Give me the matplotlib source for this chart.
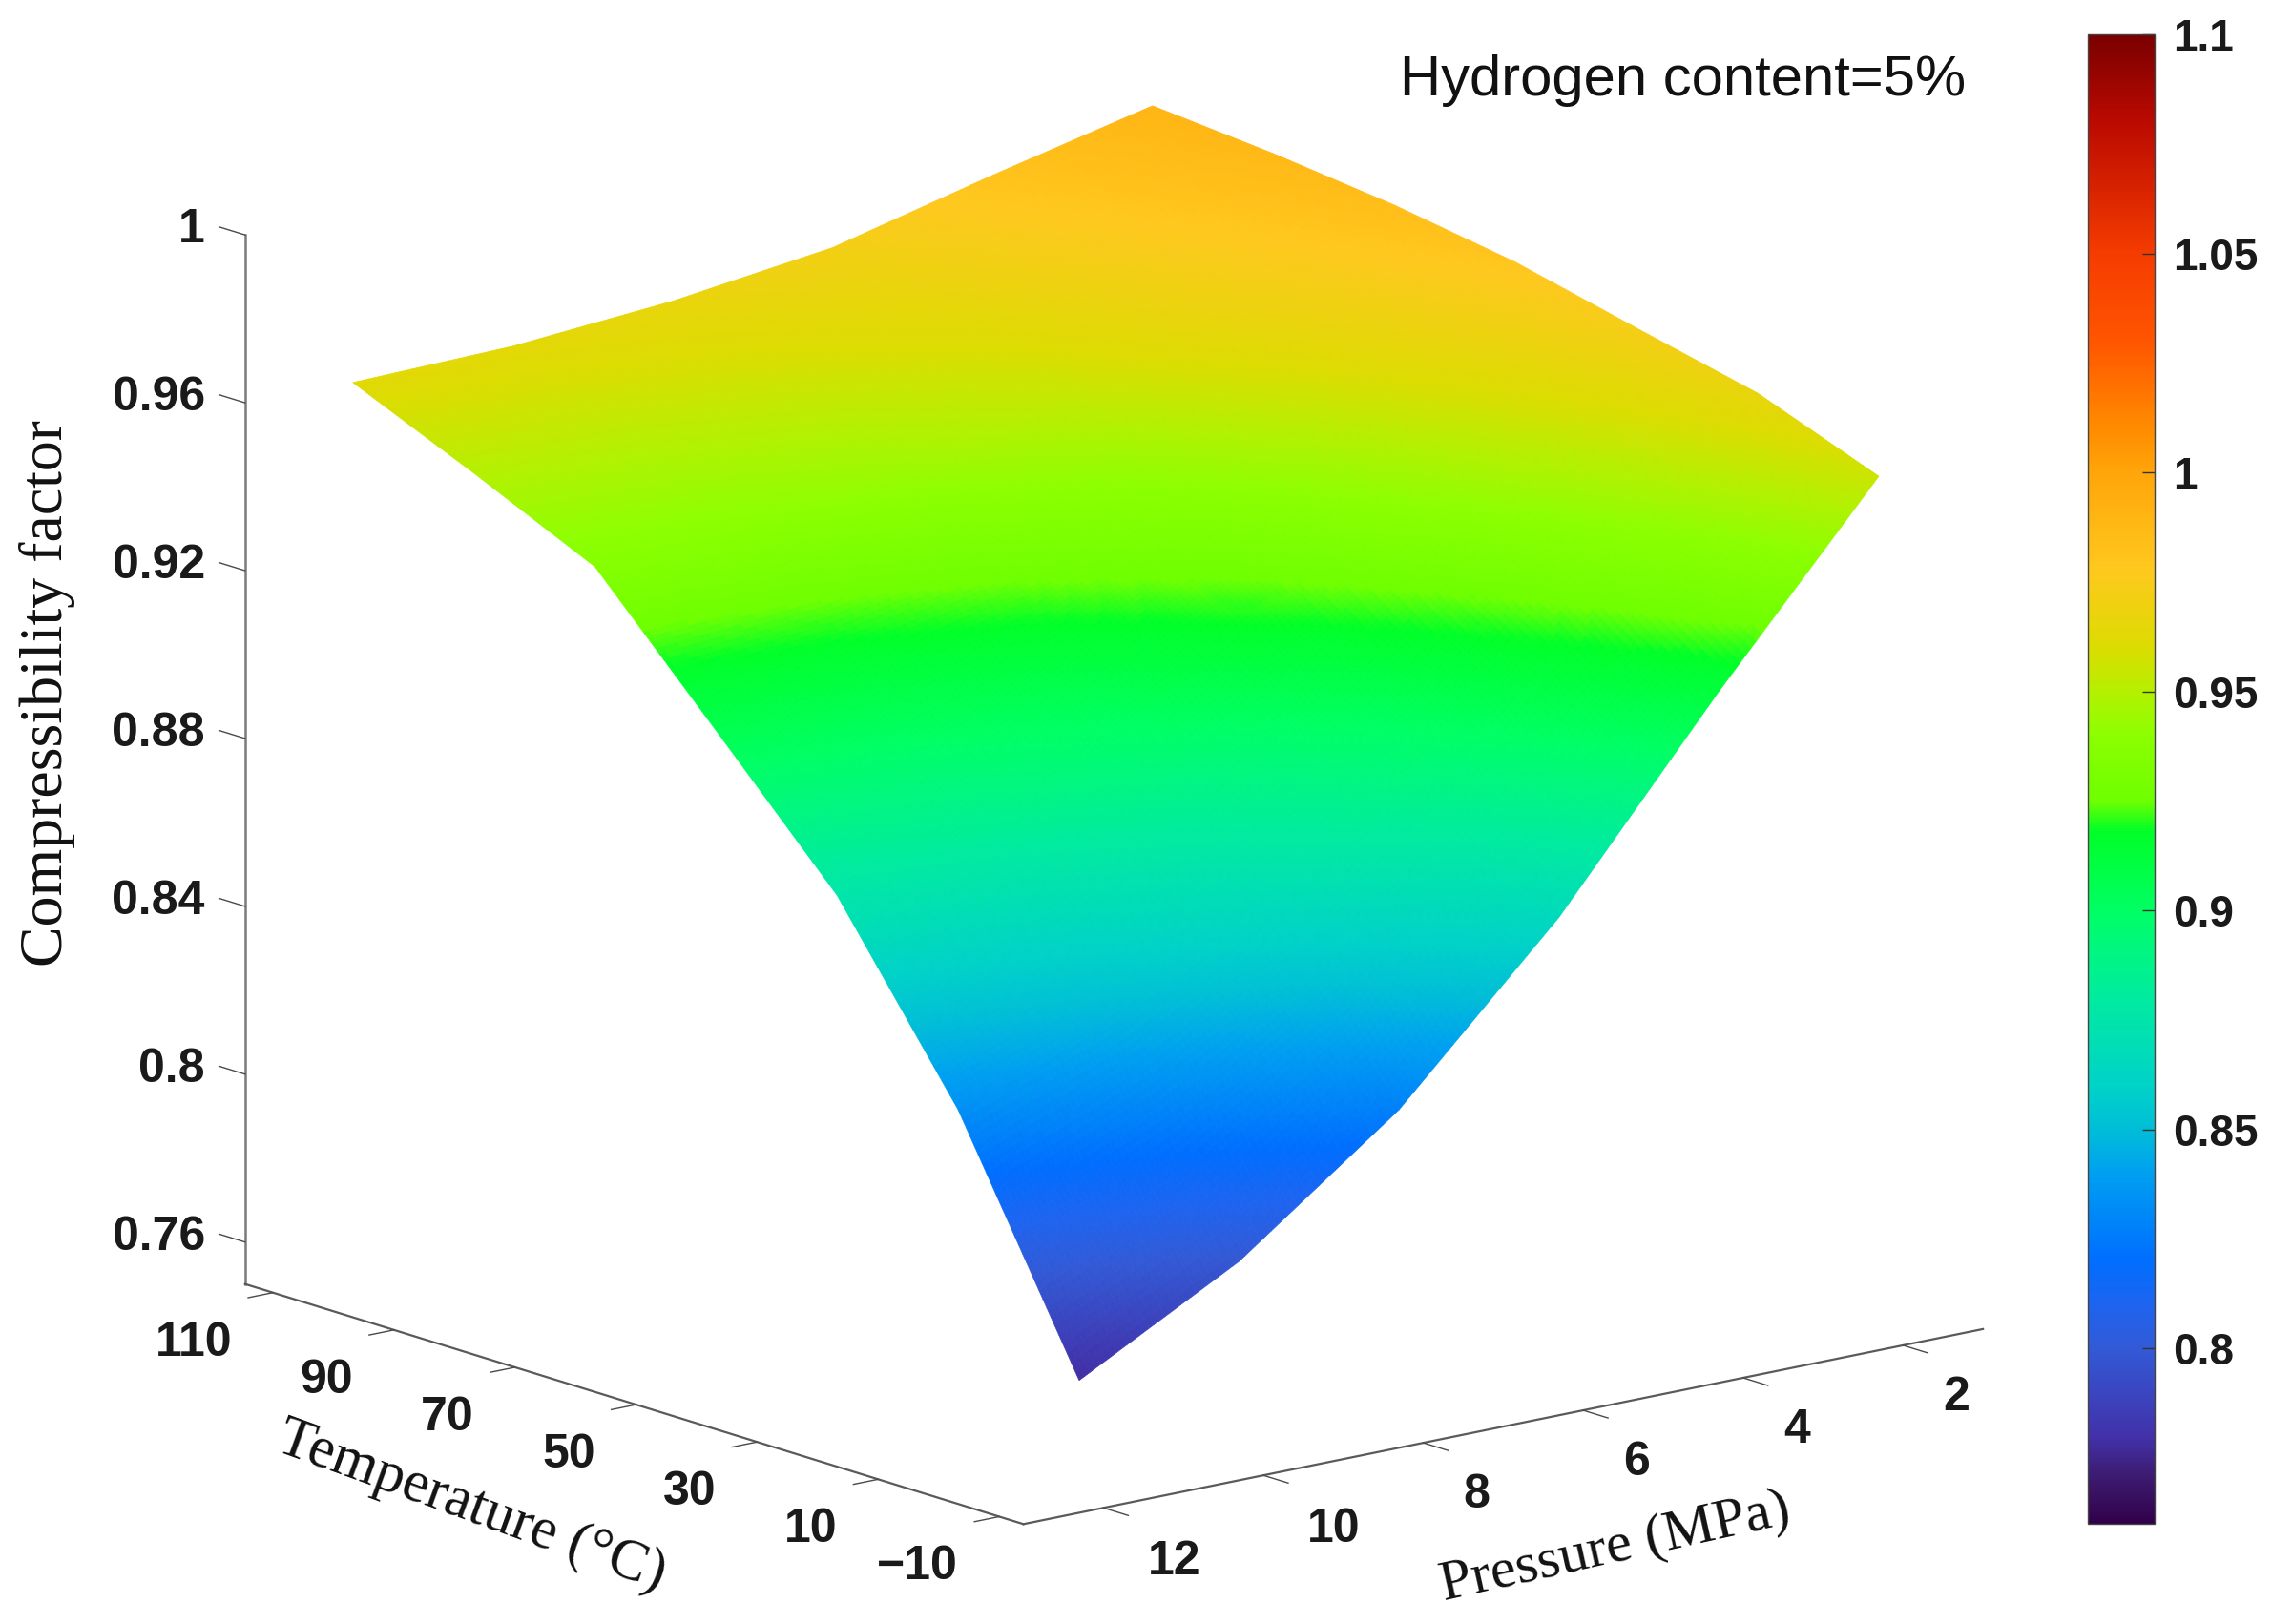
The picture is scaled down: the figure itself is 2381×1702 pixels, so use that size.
# Compressibility factor surface, hydrogen content 5%
import numpy as np
import matplotlib
matplotlib.use('Agg')
import matplotlib.pyplot as plt
from matplotlib.colors import LinearSegmentedColormap, Normalize
from matplotlib.cm import ScalarMappable
from mpl_toolkits.mplot3d import proj3d

W, H = 2381, 1702

temperature = [-10, 10, 30, 50, 70, 90, 110]
pressure = [2, 4, 6, 8, 10, 12]
# rows follow temperature, columns follow pressure
z_m10 = [0.9553, 0.9118, 0.8657, 0.8276, 0.7992, 0.7786]
z_10 = [0.9662, 0.9325, 0.8964, 0.8679, 0.8476, 0.8342]
z_30 = [0.9728, 0.9470, 0.9191, 0.8982, 0.8843, 0.8764]
z_50 = [0.9796, 0.9592, 0.9373, 0.9216, 0.9118, 0.9068]
z_70 = [0.9843, 0.9698, 0.9540, 0.9441, 0.9385, 0.9369]
z_90 = [0.9877, 0.9760, 0.9633, 0.9559, 0.9516, 0.9503]
z_110 = [0.9902, 0.9814, 0.9719, 0.9669, 0.9639, 0.9630]

t_ticks = [110, 90, 70, 50, 30, 10, -10]
t_labels = ['110', '90', '70', '50', '30', '10', '\u221210']
p_ticks = [12, 10, 8, 6, 4, 2]
z_ticks = [1.0, 0.96, 0.92, 0.88, 0.84, 0.80, 0.76]
z_labels = ['1', '0.96', '0.92', '0.88', '0.84', '0.8', '0.76']
cb_ticks = [1.1, 1.05, 1.0, 0.95, 0.9, 0.85, 0.8]
cb_labels = ['1.1', '1.05', '1', '0.95', '0.9', '0.85', '0.8']

# colours
cb_values = [0.76, 0.77, 0.78, 0.80, 0.81, 0.82, 0.84, 0.85, 0.86, 0.88, 0.90, 0.918,
             0.925, 0.94, 0.95, 0.96, 0.978, 1.0, 1.01, 1.03, 1.05, 1.08, 1.10]
cb_colors = ['#32004a', '#3c1a6e', '#4132aa', '#325ad7', '#1e64f0', '#006eff', '#00a0f0',
             '#00bed7', '#00d2c8', '#00eba0', '#00ff64', '#00ff28',
             '#6eff00', '#8cff00', '#b4f000', '#dcdc00', '#ffc81e', '#ffa50a', '#ff8c00',
             '#ff5500', '#f53c00', '#bb0a00', '#7a0000']

t_lim = (114.6, -14.0)
p_lim = (13.0, 1.0)
z_lim = (0.75, 1.0)

plt.rcParams['font.family'] = 'Liberation Sans'

fig = plt.figure(figsize=(W / 100, H / 100), dpi=100, facecolor='white')

side = 2144
cx, cy = 1138.5, 848.5
ax = fig.add_axes([(cx - side / 2) / W, (H - cy - side / 2) / H, side / W, side / H],
                  projection='3d', proj_type='ortho')
ax.set_axis_off()
ax.patch.set_alpha(0)
ax.set_xlim(*t_lim, view_margin=0)
ax.set_ylim(*p_lim, view_margin=0)
ax.set_zlim(*z_lim, view_margin=0)
ax.set_box_aspect((1290, 1291, 1132), zoom=0.9756)
ax.view_init(elev=14.5, azim=-39.07)

cb_pos = np.clip((np.array(cb_values) - 0.76) / 0.34, 0, 1)
cmap = LinearSegmentedColormap.from_list('hydrogen', list(zip(cb_pos, cb_colors)), N=512)
norm = Normalize(0.76, 1.1)

# MATLAB style interpolated shading: subdivide each cell for the colours only
zz = np.array([z_m10, z_10, z_30, z_50, z_70, z_90, z_110])
sub = 30
t_fine = np.linspace(temperature[0], temperature[-1], (len(temperature) - 1) * sub + 1)
p_fine = np.linspace(pressure[0], pressure[-1], (len(pressure) - 1) * sub + 1)
by_p = np.array([np.interp(p_fine, pressure, row) for row in zz])
z_fine = np.array([np.interp(t_fine, temperature, by_p[:, j]) for j in range(len(p_fine))]).T
T, P = np.meshgrid(t_fine, p_fine, indexing='ij')
ax.plot_surface(T, P, z_fine, facecolors=cmap(norm(z_fine)), rstride=1, cstride=1,
                shade=False, linewidth=0.5, antialiased=True)

axis_col = '#5a5a5a'
tick_col = '#4a4a4a'
ax.plot([t_lim[0], t_lim[0]], [p_lim[0], p_lim[0]], z_lim, color='#7a7a7a', lw=1.8)
ax.plot(t_lim, [p_lim[0], p_lim[0]], [z_lim[0], z_lim[0]], color=axis_col, lw=1.6)
ax.plot([t_lim[1], t_lim[1]], p_lim, [z_lim[0], z_lim[0]], color=axis_col, lw=1.6)


def put_label(text, x, y, z, dx, dy, ha):
    px, py, _ = proj3d.proj_transform(x, y, z, ax.get_proj())
    ax.annotate(text, xy=(px, py), xytext=(dx, dy), textcoords='offset pixels',
                ha=ha, va='center', fontsize=36, fontweight='bold', color='#1a1a1a',
                annotation_clip=False)


for t, lab in zip(t_ticks, t_labels):
    ax.plot([t, t], [p_lim[0], p_lim[0] + 0.31], [z_lim[0], z_lim[0]], color=tick_col, lw=1.0)
    put_label(lab, t, p_lim[0], z_lim[0], -43, -53, 'right')
for p in p_ticks:
    ax.plot([t_lim[1], t_lim[1] - 4.1], [p, p], [z_lim[0], z_lim[0]], color=tick_col, lw=1.0)
    put_label(str(p), t_lim[1], p, z_lim[0], 74 if p >= 10 else 56, -57 if p >= 10 else -55, 'center')
for z, lab in zip(z_ticks, z_labels):
    ax.plot([t_lim[0], t_lim[0] + 4.3], [p_lim[0], p_lim[0]], [z, z], color=tick_col, lw=1.0)
    put_label(lab, t_lim[0], p_lim[0], z, -42, 5, 'right')

fig.text(50 / W, 1 - 727 / H, 'Compressibility factor', family='Liberation Serif', fontsize=46,
         rotation=90, ha='center', va='center', rotation_mode='anchor', color='#111111')
fig.text(494 / W, 1 - 1579 / H, 'Temperature (\u00b0C)', family='Liberation Serif', fontsize=44,
         rotation=-20, ha='center', va='center', rotation_mode='anchor', color='#111111')
fig.text(1693 / W, 1 - 1622 / H, 'Pressure (MPa)', family='Liberation Serif', fontsize=43.5,
         rotation=12.6, ha='center', va='center', rotation_mode='anchor', color='#111111')
fig.text(1467 / W, 1 - 85 / H, 'Hydrogen content=5%', fontsize=43, ha='left', va='center',
         color='#111111')

cax = fig.add_axes([2188 / W, 1 - 1597 / H, 70 / W, (1597 - 36) / H])
cb = fig.colorbar(ScalarMappable(norm=norm, cmap=cmap), cax=cax)
cb.set_ticks(cb_ticks)
cb.set_ticklabels(cb_labels)
cb.outline.set_linewidth(1.0)
cb.outline.set_edgecolor('#444444')
cax.tick_params(direction='in', length=9.5, width=1.0, pad=14, labelsize=33, color='#333333')
for lab in cax.get_yticklabels():
    lab.set_fontweight('bold')
    lab.set_color('#1a1a1a')

fig.savefig('out.png', dpi=100)
